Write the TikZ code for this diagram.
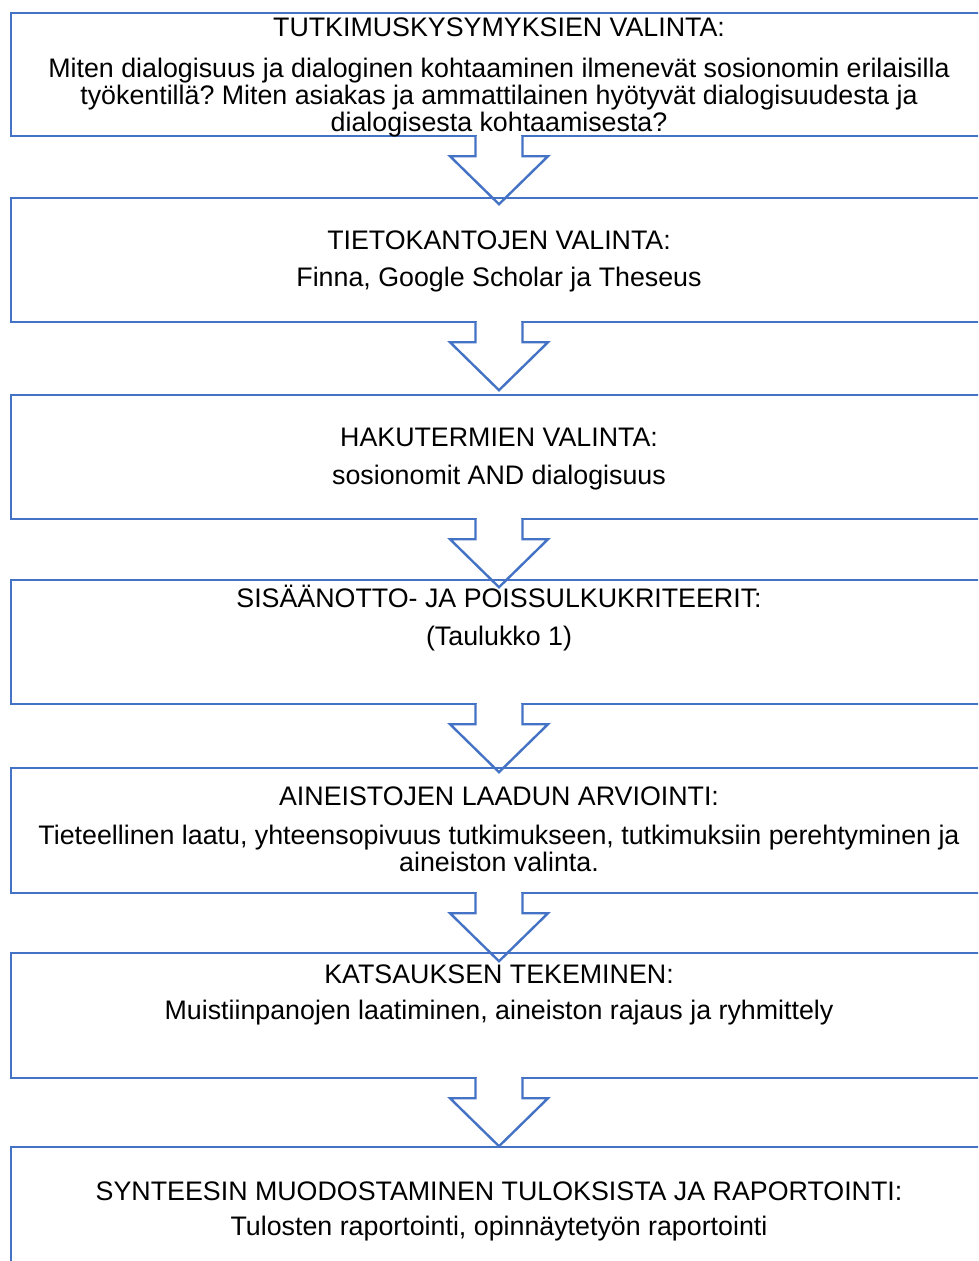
\documentclass[tikz,border=0pt]{standalone}
\usepackage{fontspec}
\setmainfont{Liberation Sans}
\usetikzlibrary{calc}
\frenchspacing
\definecolor{officeblue}{HTML}{4472C4}
\tikzset{
  stagebox/.style={draw=officeblue, line width=2.4pt, minimum width=976pt, inner sep=0pt},
  txt/.style={anchor=base, inner sep=0pt, align=center, font=\fontsize{26.8}{27}\selectfont\frenchspacing, text=black},
  arrowshape/.style={draw=officeblue, fill=white, line width=2.4pt, line join=miter}
}
\newcommand{\stagearrow}[1]{%
  \fill[white] ($(#1)+(-22.3,-2)$) rectangle ($(#1)+(22.3,20)$);
  \draw[arrowshape] ($(#1)+(-23.5,-1.2)$) -- ($(#1)+(-23.5,19)$) -- ($(#1)+(-49,19)$)
    -- ($(#1)+(0,67)$) -- ($(#1)+(49,19)$) -- ($(#1)+(23.5,19)$) -- ($(#1)+(23.5,-1.2)$);}
\begin{document}
\begin{tikzpicture}[x=1pt,y=-1pt]
\useasboundingbox (0,0) rectangle (978,1261);
\clip (0,0) rectangle (978,1261);
\fill[white] (0,0) rectangle (978,1261);

% box 1
\node[stagebox, minimum height=123pt] (b1) at (499,74.5) {};
\node[txt] (t1) at (499,36) {TUTKIMUSKYSYMYKSIEN VALINTA:};
\node[txt, anchor=north] (q1) at (499,58) {Miten dialogisuus ja dialoginen kohtaaminen ilmenevät sosionomin erilaisilla\\työkentillä? Miten asiakas ja ammattilainen hyötyvät dialogisuudesta ja\\dialogisesta kohtaamisesta?};
\coordinate (s1) at (b1.south);
\stagearrow{s1}

% box 2
\node[stagebox, minimum height=124pt] (b2) at (499,260) {};
\node[txt] (t2) at (499,249) {TIETOKANTOJEN VALINTA:};
\node[txt] (d2) at (499,286) {Finna, Google Scholar ja Theseus};
\coordinate (s2) at (b2.south);
\stagearrow{s2}

% box 3
\node[stagebox, minimum height=124pt] (b3) at (499,457) {};
\node[txt] (t3) at (499,446) {HAKUTERMIEN VALINTA:};
\node[txt] (d3) at (499,484) {sosionomit AND dialogisuus};
\coordinate (s3) at (b3.south);
\stagearrow{s3}

% box 4
\node[stagebox, minimum height=124pt] (b4) at (499,642) {};
\node[txt] (t4) at (499,607) {SISÄÄNOTTO- JA POISSULKUKRITEERIT:};
\node[txt] (d4) at (499,645) {(Taulukko 1)};
\coordinate (s4) at (b4.south);
\stagearrow{s4}

% box 5
\node[stagebox, minimum height=125pt] (b5) at (499,830.5) {};
\node[txt] (t5) at (499,805) {AINEISTOJEN LAADUN ARVIOINTI:};
\node[txt, anchor=north] (d5) at (499,825) {Tieteellinen laatu, yhteensopivuus tutkimukseen, tutkimuksiin perehtyminen ja\\aineiston valinta.};
\coordinate (s5) at (b5.south);
\stagearrow{s5}

% box 6
\node[stagebox, minimum height=125pt] (b6) at (499,1015.5) {};
\node[txt] (t6) at (499,983) {KATSAUKSEN TEKEMINEN:};
\node[txt] (d6) at (499,1019) {Muistiinpanojen laatiminen, aineiston rajaus ja ryhmittely};
\coordinate (s6) at (b6.south);
\stagearrow{s6}

% box 7
\node[stagebox, minimum height=124pt] (b7) at (499,1209) {};
\node[txt] (t7) at (499,1200) {SYNTEESIN MUODOSTAMINEN TULOKSISTA JA RAPORTOINTI:};
\node[txt] (d7) at (499,1235) {Tulosten raportointi, opinnäytetyön raportointi};
\end{tikzpicture}
\end{document}
